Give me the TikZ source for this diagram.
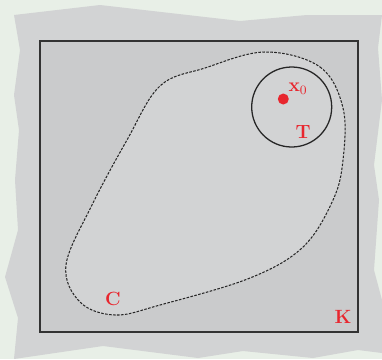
\documentclass[tikz,border=0pt]{standalone}
\usetikzlibrary{positioning}
\definecolor{paper}{HTML}{E8EFE7}
\definecolor{sheet}{HTML}{D2D3D4}
\definecolor{boxgrey}{HTML}{CACBCC}
\definecolor{labelred}{HTML}{E8262E}
\tikzset{
  lbl/.style={text=labelred, font=\large\bfseries, inner sep=0pt},
}
\begin{document}
\begin{tikzpicture}[x=0.022cm, y=-0.022cm]
  \fill[paper] (0,0) rectangle (382,359);
  \useasboundingbox (0,0) rectangle (382,359);

  % torn sheet behind the set K
  \fill[sheet] (14,15) -- (100,5) -- (240,21) -- (307,15) -- (382,15) -- (378,48)
    -- (382,100) -- (374,165) -- (379,200) -- (374,270) -- (382,300) -- (382,353)
    -- (358,350) -- (313,358) -- (243,351) -- (198,358) -- (103,346) -- (14,359)
    -- (18,318) -- (5,277) -- (18,230) -- (15,180) -- (19,130) -- (14,95) -- (20,50) -- cycle;

  \draw[line width=0.9pt, draw=black!80, fill=boxgrey] (40,41) rectangle (358,332);
  \node[lbl] (K) at (343,317) {K};

  % the dashed region C
  \draw[dash pattern=on 1.6pt off 0.9pt, line width=0.65pt, draw=black!85, fill=sheet]
    plot[smooth cycle, tension=0.6] coordinates {
    (265,52) (320,67) (343,108) (343,160) (333,200) (303,247) (250,278) (160,305)
    (115,315) (80,302) (66,265) (92,205) (127,140) (160,86) (205,68)};
  \node[lbl] (C) at (113,299) {C};

  % the ball T around x_0
  \node[draw=black!85, line width=0.8pt, circle, minimum size=80*0.022cm] (T) at (291.7,107) {};
  \node[circle, fill=labelred, inner sep=0pt, minimum size=11*0.022cm] (x0) at (283.3,99) {};
  \node[lbl, font=\large] (x0lbl) at (298,89) {$\mathbf{x}_0$};
  \node[lbl] (Tlbl) at (303,132) {T};
\end{tikzpicture}
\end{document}
